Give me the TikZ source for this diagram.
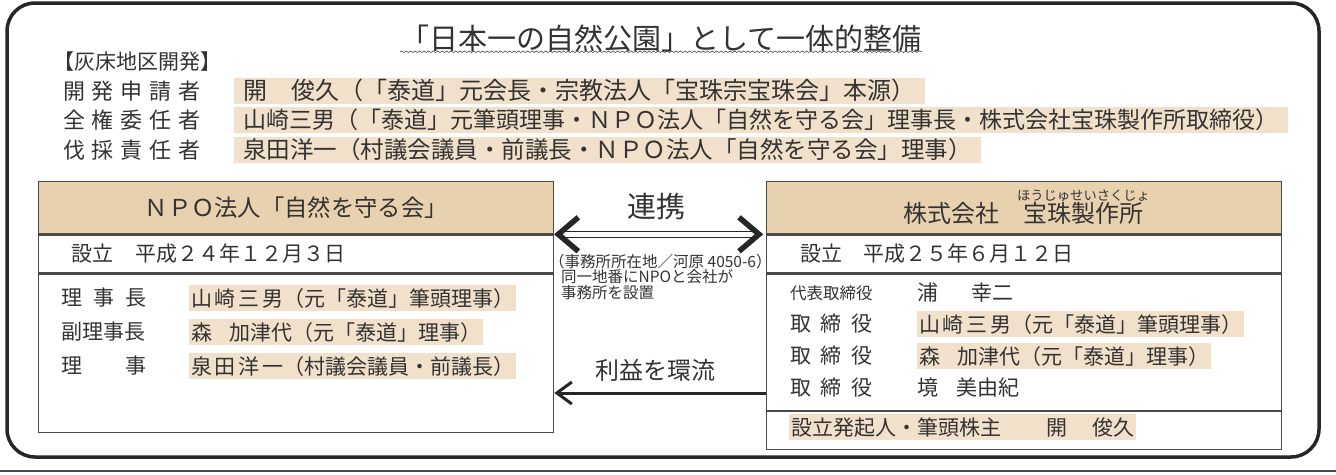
\documentclass[tikz,border=0pt]{standalone}
\usepackage{fontspec}
\setmainfont{Noto Sans CJK JP}
\usetikzlibrary{positioning,arrows.meta,decorations.pathmorphing}

\definecolor{ink}{HTML}{333333}
\definecolor{frameink}{HTML}{262626}
\definecolor{boxink}{HTML}{4A4A4A}
\definecolor{tanfill}{HTML}{E8D1AE}
\definecolor{hilite}{HTML}{F1E0CA}

\newcommand\fsz[1]{\fontsize{#1}{#1}\selectfont}
\newcommand\spacedword[2]{\makebox[#1pt][s]{#2}}

\tikzset{
  outerframe/.style={draw=frameink, line width=3.5pt, rounded corners=28pt},
  panel/.style={draw=boxink, line width=1.3pt, minimum width=515pt, inner sep=0pt, text=ink},
  headpanel/.style={panel, fill=tanfill, minimum height=52pt},
  txt/.style={anchor=west, inner sep=0pt, text=ink},
  marker/.style={txt, fill=hilite, inner xsep=2pt, inner ysep=2.5pt, text height=18.5pt, text depth=2.5pt},
  topmarker/.style={marker, inner xsep=9.5pt, inner ysep=1.2pt, text height=20.5pt, text depth=3pt},
  link/.style={draw=frameink, double=white, double distance=4.5pt, line width=1.3pt},
  chevron/.style={draw=frameink, line width=5.5pt, line join=miter},
  flow/.style={draw=frameink, line width=3pt, -{Straight Barb[length=15pt,width=22pt]}},
  wavy/.style={draw=ink, line width=0.5pt, decorate, decoration={snake, amplitude=0.8pt, segment length=4.5pt}},
}

\begin{document}
\begin{tikzpicture}[x=1pt, y=-1pt]
\useasboundingbox (0,0) rectangle (1336,474);
% outer frame
\draw[outerframe] (7,3) rectangle (1319,457);
\draw[draw=boxink, line width=1.8pt] (0,471) -- (1336,471);

% title
\node[txt, anchor=center] (title) at (661,38) {\fsz{29}「日本一の自然公園」として一体的整備};
\draw[wavy] (title.south west) -- (title.south east);

% development
\node[txt] (area) at (53,62) {\fsz{21}【灰床地区開発】};
\node[txt] (role1) at (63,91) {\fsz{22}\spacedword{137}{開\hfill 発\hfill 申\hfill 請\hfill 者}};
\node[txt] (role2) at (63,120) {\fsz{22}\spacedword{137}{全\hfill 権\hfill 委\hfill 任\hfill 者}};
\node[txt] (role3) at (63,150) {\fsz{22}\spacedword{137}{伐\hfill 採\hfill 責\hfill 任\hfill 者}};
\node[topmarker] (person1) at (233.5,91) {\fsz{24}開　俊久（「泰道」元会長・宗教法人「宝珠宗宝珠会」本源）};
\node[topmarker] (person2) at (233.5,120) {\fsz{23}山崎三男（「泰道」元筆頭理事・ＮＰＯ法人「自然を守る会」理事長・株式会社宝珠製作所取締役）};
\node[topmarker] (person3) at (233.5,150) {\fsz{23.5}泉田洋一（村議会議員・前議長・ＮＰＯ法人「自然を守る会」理事）};

% NPO
\node[headpanel, anchor=north west] (npohead) at (38,181) {\fsz{23.3}ＮＰＯ法人「自然を守る会」};
\node[panel, minimum height=38pt, below=0pt of npohead] (npodate) {};
\node[panel, minimum height=158pt, below=0pt of npodate] (npobody) {};
\node[txt, right=33pt of npodate.west] (npofounded) {\fsz{21}設立\hspace{22pt}平成２４年１２月３日};
\node[txt] (chair) at (61,298) {\fsz{21}\spacedword{85}{理\hfill 事\hfill 長}};
\node[marker] (chairname) at (189,298) {\fsz{21}\spacedword{92}{山\hfill 崎\hfill 三\hfill 男}（元「泰道」筆頭理事）};
\node[txt] (vice) at (61,332) {\fsz{21}副理事長};
\node[marker] (vicename) at (189,332) {\fsz{21}森\hspace{17pt}加津代（元「泰道」理事）};
\node[txt] (member) at (61,366) {\fsz{21}\spacedword{85}{理\hfill 事}};
\node[marker] (membername) at (189,366) {\fsz{21}\spacedword{92}{泉\hfill 田\hfill 洋\hfill 一}（村議会議員・前議長）};

% company
\node[headpanel, anchor=north west] (cohead) at (766,181) {};
\node[txt, anchor=center] (coname) at (1083.5,213) {\fsz{24}宝珠製作所};
\node[txt, left=0pt of coname] (cotype) {\fsz{24}株式会社　};
\node[txt, above=0pt of coname] (coruby) {\fsz{13.3}ほうじゅせいさくじょ};
\node[panel, minimum height=38pt, below=0pt of cohead] (codate) {};
\node[panel, minimum height=136pt, below=0pt of codate] (cobody) {};
\node[panel, minimum height=38pt, below=0pt of cobody] (cofoot) {};
\node[txt, right=34pt of codate.west] (cofounded) {\fsz{21}設立\hspace{21pt}平成２５年６月１２日};
\node[txt] (ceo) at (790,293) {\fsz{16.5}代表取締役};
\node[txt] (ceoname) at (917,293) {\fsz{21}浦\hspace{33pt}幸二};
\node[txt] (dir1) at (790,324) {\fsz{21}\spacedword{82}{取\hfill 締\hfill 役}};
\node[marker] (dir1name) at (917,324) {\fsz{21}\spacedword{92}{山\hfill 崎\hfill 三\hfill 男}（元「泰道」筆頭理事）};
\node[txt] (dir2) at (790,356) {\fsz{21}\spacedword{82}{取\hfill 締\hfill 役}};
\node[marker] (dir2name) at (917,356) {\fsz{21}森\hspace{17pt}加津代（元「泰道」理事）};
\node[txt] (dir3) at (790,388) {\fsz{21}\spacedword{82}{取\hfill 締\hfill 役}};
\node[txt] (dir3name) at (917,388) {\fsz{21}境\hspace{18pt}美由紀};
\node[marker] (promoter) at (789,427) {\fsz{21}設立発起人・筆頭株主\hspace{45pt}開\hspace{25pt}俊久};

% between
\node[txt, anchor=center] (linklabel) at (656.5,207) {\fsz{29}連携};
\draw[link, shorten <=8pt, shorten >=8pt] (npohead.south east) -- (cohead.south west);
\draw[chevron] ([shift={(24,-17)}]npohead.south east) -- ([xshift=4pt]npohead.south east) -- ([shift={(24,17)}]npohead.south east);
\draw[chevron] ([shift={(-27,-17)}]cohead.south west) -- ([xshift=-7pt]cohead.south west) -- ([shift={(-27,17)}]cohead.south west);
\node[txt, align=left, anchor=north west, font=\fontsize{15.5}{15.5}\selectfont] (note) at (549,254) {（事務所所在地／河原 4050-6）\\\hspace*{12pt}同一地番にNPOと会社が\\\hspace*{12pt}事務所を設置};
\coordinate (flowlevel) at (0,393);
\draw[flow] (cobody.west |- flowlevel) -- (npobody.east |- flowlevel);
\node[txt, anchor=center] (flowlabel) at (655,370) {\fsz{24}利益を環流};
\end{tikzpicture}
\end{document}
